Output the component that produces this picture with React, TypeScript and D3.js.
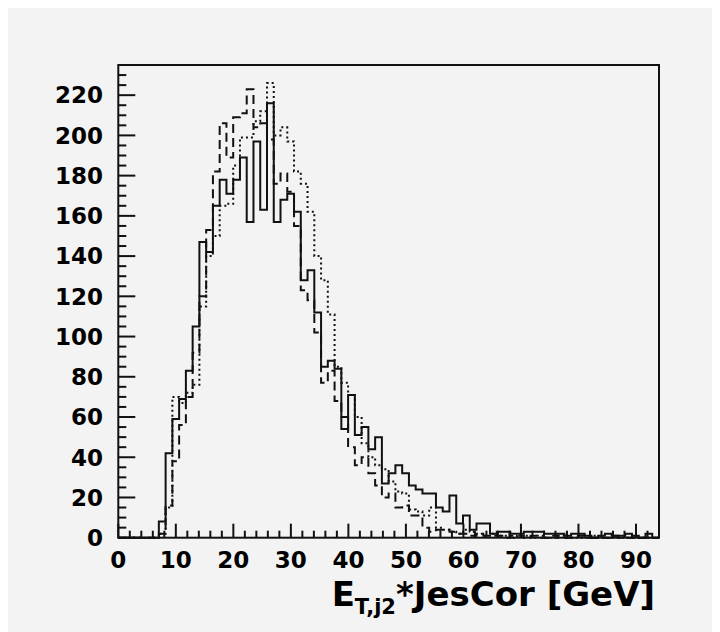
import * as d3 from 'd3';

// histogram binning (80 bins over the x range)
const xMin = 0;
const xMax = 94;
const binCount = 80;

// per-bin counts
const solidCounts = [
  0, 0, 0, 0, 0, 0, 8, 42, 59, 69,
  83, 105, 147, 142, 165, 178, 171, 178, 189, 157,
  197, 163, 216, 157, 168, 171, 162, 128, 133, 112,
  85, 88, 84, 54, 71, 51, 55, 44, 50, 27,
  32, 36, 32, 26, 24, 22, 22, 15, 13, 21,
  7, 11, 4, 7, 7, 2, 3, 3, 2, 2,
  3, 3, 3, 2, 2, 2, 1, 2, 2, 1,
  0, 1, 2, 1, 1, 2, 1, 0, 2, 0,
];

const dashedCounts = [
  0, 0, 0, 0, 0, 0, 2, 16, 38, 56,
  70, 92, 120, 153, 182, 206, 189, 209, 211, 223,
  204, 206, 198, 176, 181, 172, 155, 123, 118, 102,
  77, 83, 68, 60, 45, 36, 40, 32, 26, 20,
  22, 15, 16, 11, 11, 5, 3, 4, 4, 3,
  2, 2, 1, 2, 1, 1, 1, 0, 1, 1,
  0, 1, 0, 0, 1, 0, 0, 0, 1, 0,
  0, 0, 0, 1, 0, 0, 0, 0, 0, 0,
];

const dottedCounts = [
  0, 0, 0, 0, 0, 0, 2, 15, 70, 67,
  72, 76, 115, 140, 150, 165, 166, 185, 199, 199,
  207, 212, 226, 200, 204, 197, 182, 176, 162, 140,
  128, 111, 85, 77, 71, 60, 47, 40, 36, 34,
  28, 23, 22, 14, 13, 11, 15, 5, 4, 3,
  2, 4, 3, 2, 1, 2, 1, 1, 0, 1,
  1, 0, 1, 0, 0, 1, 0, 0, 0, 0,
  1, 0, 0, 0, 0, 0, 1, 0, 0, 0,
];

const xTickLabels = [0, 10, 20, 30, 40, 50, 60, 70, 80, 90];
const yTickLabels = [0, 20, 40, 60, 80, 100, 120, 140, 160, 180, 200, 220];

const frame = { left: 118.3, right: 659, top: 65, bottom: 537.7 };
const font = '"DejaVu Sans", sans-serif';

export default function App() {
  const x = d3.scaleLinear().domain([xMin, xMax]).range([frame.left, frame.right]);
  const y = d3.scaleLinear().domain([0, 235]).range([frame.bottom, frame.top]);
  const binWidth = (xMax - xMin) / binCount;

  const stepPath = (counts: number[]) => {
    const pts = counts.map((v, i) => [xMin + i * binWidth, v] as [number, number]);
    pts.push([xMax, counts[counts.length - 1]]);
    pts.push([xMax, 0]);
    return d3
      .line<[number, number]>()
      .x((d) => x(d[0]))
      .y((d) => y(d[1]))
      .curve(d3.curveStepAfter)([[xMin, 0], ...pts]) as string;
  };

  const xMinor = d3.range(0, xMax, 2).filter((v) => v % 10 !== 0);
  const yMinor = d3.range(0, 236, 5).filter((v) => v % 20 !== 0);

  return (
    <svg width={712} height={624} style={{ display: 'block' }}>
      <g transform="translate(-8,-8)">
        <rect x={8} y={8} width={712} height={624} fill="#f3f3f3" />

        {/* histograms */}
        <path d={stepPath(dottedCounts)} fill="none" stroke="#111" strokeWidth={2} strokeDasharray="2,3" />
        <path d={stepPath(dashedCounts)} fill="none" stroke="#111" strokeWidth={2} strokeDasharray="9,5" />
        <path d={stepPath(solidCounts)} fill="none" stroke="#111" strokeWidth={2} />

        {/* frame */}
        <rect
          x={frame.left}
          y={frame.top}
          width={frame.right - frame.left}
          height={frame.bottom - frame.top}
          fill="none"
          stroke="#111"
          strokeWidth={2}
        />

        {/* y ticks */}
        {yTickLabels.map((v) => (
          <g key={'y' + v}>
            <line x1={frame.left} x2={frame.left + 17} y1={y(v)} y2={y(v)} stroke="#111" strokeWidth={2} />
            <text
              x={103}
              y={y(v)}
              dy="0.36em"
              textAnchor="end"
              fontFamily={font}
              fontWeight="bold"
              fontSize={23}
              fill="#000"
            >
              {v}
            </text>
          </g>
        ))}
        {yMinor.map((v) => (
          <line key={'ym' + v} x1={frame.left} x2={frame.left + 8} y1={y(v)} y2={y(v)} stroke="#111" strokeWidth={2} />
        ))}

        {/* x ticks */}
        {xTickLabels.map((v) => (
          <g key={'x' + v}>
            <line x1={x(v)} x2={x(v)} y1={frame.bottom} y2={frame.bottom - 14} stroke="#111" strokeWidth={2} />
            <text
              x={x(v)}
              y={568}
              textAnchor="middle"
              fontFamily={font}
              fontWeight="bold"
              fontSize={23}
              fill="#000"
            >
              {v}
            </text>
          </g>
        ))}
        {xMinor.map((v) => (
          <line key={'xm' + v} x1={x(v)} x2={x(v)} y1={frame.bottom} y2={frame.bottom - 7} stroke="#111" strokeWidth={2} />
        ))}

        {/* axis title */}
        <text x={655} y={606} textAnchor="end" fontFamily={font} fontWeight="bold" fontSize={34} fill="#000">
          E
          <tspan fontSize={21} dy={8}>
            T,j2
          </tspan>
          <tspan dy={-8}>*JesCor [GeV]</tspan>
        </text>
      </g>
    </svg>
  );
}
